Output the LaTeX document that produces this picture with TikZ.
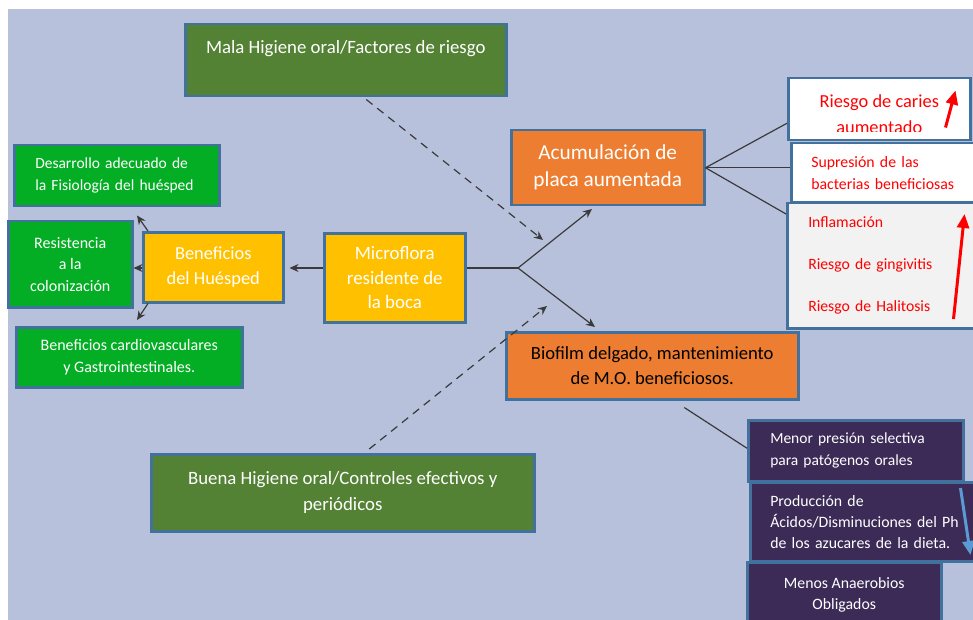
\documentclass[tikz,border=0pt]{standalone}
\usepackage{fontspec}
\setmainfont{Carlito}
\usetikzlibrary{arrows.meta,calc}

\definecolor{fondo}{HTML}{B8C1DB}
\definecolor{borde}{HTML}{41719C}
\definecolor{verdeosc}{HTML}{548235}
\definecolor{verde}{HTML}{04AE24}
\definecolor{naranja}{HTML}{ED7D31}
\definecolor{amarillo}{HTML}{FFC000}
\definecolor{morado}{HTML}{3C2B57}
\definecolor{grisclaro}{HTML}{F2F2F2}
\definecolor{rojo}{HTML}{FF0000}
\definecolor{azul}{HTML}{5B9BD5}
\definecolor{linea}{HTML}{3A3A3A}

\begin{document}
\begin{tikzpicture}[x=1pt,y=-1pt,>={Stealth[length=9pt,width=8pt]}]
\tikzstyle{caja}=[draw=borde,line width=2.5pt,anchor=north west,inner sep=0pt,text=white]
\tikzstyle{lin}=[draw=linea,line width=1.2pt]
\tikzstyle{flecha}=[line width=3pt,-{Triangle[length=14pt,width=12pt]}]
\useasboundingbox (0,0) rectangle (973,620);
\clip (0,0) rectangle (973,620);
\fill[fondo] (8,9) rectangle (990,640);
% cajas
\node[caja,fill=verdeosc,minimum width=321,minimum height=72,text height=29.5pt,text depth=42.5pt,font=\fontsize{18.8}{22}\selectfont] (mala) at (184,23) {Mala Higiene oral/Factores de riesgo};
\node[caja,fill=naranja,minimum width=193,minimum height=75,align=center,font=\fontsize{21.3}{27}\selectfont] (acu) at (510,129) {Acumulación de\\placa aumentada};
\node[caja,fill=white,minimum width=182,minimum height=62] (car) at (787,77) {};
\begin{scope}
\clip (car.north west) rectangle ([shift={(0,-10)}]car.south east);
\node[text=rojo,align=center,font=\fontsize{18.4}{26}\selectfont] (cart) at ([shift={(0,5)}]car.center) {Riesgo de caries\\aumentado};
\end{scope}
\node[caja,fill=white,text=rojo,minimum width=200,minimum height=59,text width=160pt,align=left,font=\fontsize{15.8}{22}\selectfont] (sup) at (790,142) {Supresión de las\\bacterias beneficiosas};
\node[caja,fill=grisclaro,text=rojo,minimum width=200,minimum height=125,text width=158pt,align=left,font=\fontsize{15.7}{42}\selectfont] (inf) at (786,202) {Inflamación\\Riesgo de gingivitis\\Riesgo de Halitosis};
\node[caja,fill=amarillo,minimum width=141,minimum height=89,align=center,font=\fontsize{18.9}{24.5}\selectfont] (mic) at (323,232) {Microflora\\residente de\\la boca};
\node[caja,fill=amarillo,minimum width=140,minimum height=70,align=center,font=\fontsize{18.4}{25}\selectfont] (ben) at (142,231) {Beneficios\\del Huésped};
\node[caja,fill=verde,minimum width=205,minimum height=61,text width=163pt,align=left,font=\fontsize{15.5}{22}\selectfont] (des) at (13,144) {Desarrollo adecuado de\\la Fisiología del huésped};
\node[caja,fill=verde,minimum width=124,minimum height=86,align=center,font=\fontsize{16}{21.5}\selectfont] (res) at (7,220) {Resistencia\\a la\\colonización};
\node[caja,fill=verde,minimum width=226,minimum height=60,align=center,font=\fontsize{16}{22}\selectfont] (cv) at (15,326) {Beneficios cardiovasculares\\y Gastrointestinales.};
\node[caja,fill=naranja,text=black,minimum width=292,minimum height=67,align=center,font=\fontsize{18.6}{25}\selectfont] (bio) at (505,331) {Biofilm delgado, mantenimiento\\de M.O. beneficiosos.};
\node[caja,fill=verdeosc,minimum width=383,minimum height=77,align=center,font=\fontsize{18.8}{26}\selectfont] (bue) at (150,453) {Buena Higiene oral/Controles efectivos y\\periódicos};
\node[caja,fill=morado,minimum width=215,minimum height=61,text width=171pt,align=left,font=\fontsize{15.5}{22}\selectfont] (men) at (747,419) {Menor presión selectiva\\para patógenos orales};
\node[caja,fill=morado,minimum width=240,minimum height=79,text width=200pt,align=left,font=\fontsize{15.8}{21}\selectfont] (pro) at (749,481) {Producción de\\Ácidos/Disminuciones del Ph\\de los azucares de la dieta.};
\node[caja,fill=morado,minimum width=194,minimum height=65,align=center,font=\fontsize{15.8}{21}\selectfont] (mea) at (746,561) {Menos Anaerobios\\Obligados};
% conectores
\coordinate (jn) at (518,268);
\coordinate (pa) at (592,209);
\coordinate (pb) at (595,327);
\coordinate (da) at (543,240);
\coordinate (db) at (547,306);
\draw[lin] (mic.east |- jn) -- (jn);
\draw[lin,->] (jn) -- (pa);
\draw[lin,->] (jn) -- (pb);
\draw[lin,dashed,dash pattern=on 8pt off 6pt,->] ([shift={(20.5,2)}]mala.south) -- (da);
\draw[lin,dashed,dash pattern=on 8pt off 6pt,->] ([shift={(26.5,-4)}]bue.north) -- (db);
\draw[lin,->,shorten >=5pt] (mic.west |- jn) -- (ben.east |- jn);
\draw[lin,->] ([shift={(6,0)}]ben.north west) -- ([shift={(124,8)}]des.south west);
\draw[lin,->] (ben.west |- jn) -- (res.east |- jn);
\draw[lin,->] ([shift={(6,0)}]ben.south west) -- ([shift={(122,-6)}]cv.north west);
\draw[lin] (acu.east) -- ([shift={(0,14)}]car.west);
\draw[lin] (acu.east) -- (sup.west |- acu.east);
\draw[lin] (acu.east) -- ([shift={(0,12)}]inf.north west);
\draw[lin] ([shift={(32,7)}]bio.south) -- ([shift={(0,-2.5)}]men.west);
% flechas de tendencia
\draw[flecha,rojo] ([shift={(-26,-14)}]car.south east) -- ([shift={(-16,-51)}]car.south east);
\draw[flecha,rojo] ([shift={(-35,117)}]inf.north east) -- ([shift={(-24,12)}]inf.north east);
\draw[flecha,azul] ([shift={(-31,7)}]pro.north east) -- ([shift={(-21,74)}]pro.north east);
\end{tikzpicture}
\end{document}
